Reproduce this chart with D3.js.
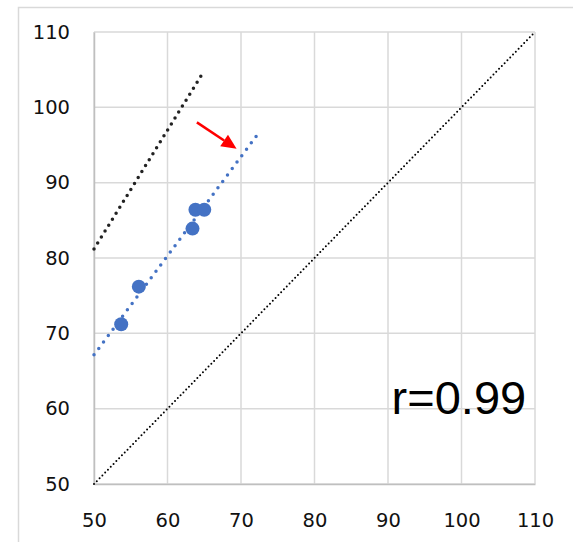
<!DOCTYPE html>
<html>
<head>
<meta charset="utf-8">
<script src="https://cdn.jsdelivr.net/npm/d3@7"></script>
<style>
  body { margin: 0; background: #fff; }
  svg { display: block; font-family: "Liberation Sans", Arial, sans-serif; }
</style>
</head>
<body>
<div id="chart"></div>
<script>
// measured values (x, y)
var pointsX = [53.7, 56.1, 63.4, 63.8, 65.0];
var pointsY = [71.2, 76.2, 83.9, 86.4, 86.4];
var trendRange = [50, 72.4];             // extent of the blue trendline
var otherLineX = [50, 64.9];             // black dotted line
var otherLineY = [81.2, 104.7];
var identityLine = [50, 110];            // y = x
var arrowFrom = [64.0, 98.0];
var arrowTo = [69.4, 94.5];
var ticks = [50, 60, 70, 80, 90, 100, 110];
var rLabel = 'r=0.99';

var W = 573, H = 542;
var margin = {top: 32, right: 38, bottom: 58, left: 94};
var width = W - margin.left - margin.right, height = H - margin.top - margin.bottom;

var svgRoot = d3.select('#chart').append('svg')
    .attr('width', W).attr('height', H);

// outer chart border
svgRoot.append('rect')
    .attr('x', 18.5).attr('y', 7.5)
    .attr('width', W).attr('height', H)
    .attr('fill', 'none').attr('stroke', '#d9d9d9').attr('stroke-width', 1.5);

var svg = svgRoot.append('g')
    .attr('transform', 'translate(' + margin.left + ',' + margin.top + ')');

var x = d3.scaleLinear().domain([50, 110]).range([0, width]);
var y = d3.scaleLinear().domain([50, 110]).range([height, 0]);

// gridlines
svg.append('g').selectAll('line.vg').data(ticks).enter().append('line')
    .attr('x1', function(d) { return x(d); }).attr('x2', function(d) { return x(d); })
    .attr('y1', 0).attr('y2', height)
    .attr('stroke', '#d9d9d9').attr('stroke-width', 1.5);
svg.append('g').selectAll('line.hg').data(ticks).enter().append('line')
    .attr('y1', function(d) { return y(d); }).attr('y2', function(d) { return y(d); })
    .attr('x1', 0).attr('x2', width)
    .attr('stroke', '#d9d9d9').attr('stroke-width', 1.5);

// axes
var xAxis = svg.append('g')
    .attr('transform', 'translate(0,' + height + ')')
    .call(d3.axisBottom(x).tickValues(ticks).tickSize(0).tickPadding(29));
var yAxis = svg.append('g')
    .call(d3.axisLeft(y).tickValues(ticks).tickSize(0).tickPadding(24));
[xAxis, yAxis].forEach(function(a) {
    a.select('.domain').attr('stroke', '#bfbfbf').attr('stroke-width', 1.5);
    a.selectAll('text').style('font-size', '19.5px').attr('fill', '#111')
        .style('font-family', '"DejaVu Sans", sans-serif');
});

var line = d3.line()
    .x(function(d) { return x(d[0]); })
    .y(function(d) { return y(d[1]); });

// identity line
svg.append('path')
    .datum([[identityLine[0], identityLine[0]], [identityLine[1], identityLine[1]]])
    .attr('d', line)
    .attr('fill', 'none').attr('stroke', '#000').attr('stroke-width', 2)
    .attr('stroke-dasharray', '0 4').attr('stroke-linecap', 'round');

// black dotted line
svg.append('path')
    .datum([[otherLineX[0], otherLineY[0]], [otherLineX[1], otherLineY[1]]])
    .attr('d', line)
    .attr('fill', 'none').attr('stroke', '#222').attr('stroke-width', 3.5)
    .attr('stroke-dasharray', '0 7').attr('stroke-linecap', 'round');

// linear trendline from the points
var mx = d3.mean(pointsX), my = d3.mean(pointsY);
var sxy = d3.sum(pointsX, function(v, i) { return (v - mx) * (pointsY[i] - my); });
var sxx = d3.sum(pointsX, function(v) { return (v - mx) * (v - mx); });
var slope = sxy / sxx, icpt = my - slope * mx;
svg.append('path')
    .datum(trendRange.map(function(v) { return [v, icpt + slope * v]; }))
    .attr('d', line)
    .attr('fill', 'none').attr('stroke', '#4472c4').attr('stroke-width', 3.5)
    .attr('stroke-dasharray', '0 8').attr('stroke-linecap', 'round');

// points
svg.append('g').selectAll('circle').data(pointsX).enter().append('circle')
    .attr('cx', function(d) { return x(d); })
    .attr('cy', function(d, i) { return y(pointsY[i]); })
    .attr('r', 7)
    .attr('fill', '#4472c4');

// red arrow
var ax1 = x(arrowFrom[0]), ay1 = y(arrowFrom[1]), ax2 = x(arrowTo[0]), ay2 = y(arrowTo[1]);
var ang = Math.atan2(ay2 - ay1, ax2 - ax1);
var hl = 15, hw = 7;
var bx = ax2 - hl * Math.cos(ang), by = ay2 - hl * Math.sin(ang);
svg.append('line')
    .attr('x1', ax1).attr('y1', ay1).attr('x2', bx).attr('y2', by)
    .attr('stroke', '#ff0000').attr('stroke-width', 2.5);
svg.append('path')
    .attr('d', 'M' + ax2 + ',' + ay2 +
        'L' + (bx + hw * Math.sin(ang)) + ',' + (by - hw * Math.cos(ang)) +
        'L' + (bx - hw * Math.sin(ang)) + ',' + (by + hw * Math.cos(ang)) + 'Z')
    .attr('fill', '#ff0000');

// correlation label
svg.append('text')
    .attr('x', x(108.8)).attr('y', y(59.3))
    .attr('text-anchor', 'end')
    .style('font-size', '47px')
    .attr('fill', '#000')
    .text(rLabel);
</script>
</body>
</html>
